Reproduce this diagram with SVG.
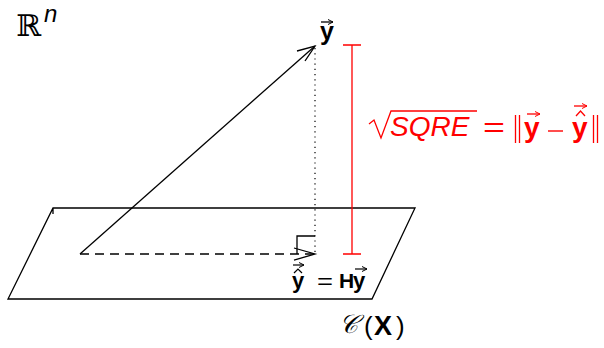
<svg xmlns="http://www.w3.org/2000/svg" width="604" height="348" viewBox="0 0 604 348">
<style>
.k{stroke:#000;fill:none;stroke-width:1.3}
.r{stroke:#ff0000;fill:none;stroke-width:1.3}
.t{font-family:"Liberation Sans",Arial,sans-serif;fill:#000}
.b{font-weight:bold}
.red{fill:#ff0000}
.i{font-style:italic}
</style>
<defs>
<marker id="vec" markerWidth="6" markerHeight="6" refX="5" refY="3" orient="auto" markerUnits="userSpaceOnUse">
<path d="M0,0.5 L5,3 L0,5.5" fill="none" stroke="context-stroke" stroke-width="1"/>
</marker>
</defs>
<g id="plane">
<path class="k" d="M53,208 L415,208 L372,299 L8,299 Z M53,208 L53,214"/>
</g>
<g id="connectors">
<path class="k" d="M80,254 L315,46"/>
<path class="k" d="M297,51 L315,46 L305,61"/>
<path class="k" d="M80,254 L315,254" stroke-dasharray="9,6"/>
<path class="k" d="M294,248 L315,254 L294,260"/>
<path class="k" d="M297,254 L297,236 L315,236"/>
<path d="M315,48 L315,254" stroke="#000" stroke-width="1.2" stroke-dasharray="1.2,4" fill="none"/>
<path class="r" d="M343,45 L361,45 M352,45 L352,254 M343,254 L361,254"/>
</g>
<g id="space-label">
<text class="t" x="16" y="36" font-size="30" style="font-family:'DejaVu Serif',serif">ℝ</text>
<text class="t i" x="44" y="22" font-size="24">n</text>
</g>
<g id="y-label">
<text class="t b" x="320" y="40" font-size="25">y</text>
<path d="M321,22 L333,22" stroke="#000" stroke-width="1.3" marker-end="url(#vec)"/>
</g>
<g id="yhat-label">
<text class="t b" x="292" y="288" font-size="22">y</text>
<path d="M293,265 L304,265" stroke="#000" stroke-width="1.2" marker-end="url(#vec)"/>
<path d="M294,273 L298,269 L302,273" stroke="#000" stroke-width="1.2" fill="none"/>
<text class="t" x="317" y="289" font-size="22" textLength="16" lengthAdjust="spacingAndGlyphs">=</text>
<text class="t b" x="339" y="288" font-size="21">H</text>
<path d="M355,269 L367,269" stroke="#000" stroke-width="1.2" marker-end="url(#vec)"/>
<text class="t b" x="353" y="288" font-size="22">y</text>
</g>
<g id="error-label">
<path class="r" d="M369,124 L374,120 L381,138 L391,111 L477,111"/>
<text class="t i red" x="390" y="136" font-size="28">SQRE</text>
<text class="t red" x="483" y="137" font-size="28" textLength="22" lengthAdjust="spacingAndGlyphs">=</text>
<path class="r" d="M515.5,115 L515.5,143 M519.5,115 L519.5,143"/>
<text class="t b red" x="524" y="137" font-size="28">y</text>
<path d="M527,114 L540,114" stroke="#ff0000" stroke-width="1.3" marker-end="url(#vec)"/>
<path d="M548,131 L563,131" stroke="#ff0000" stroke-width="1.4"/>
<text class="t b red" x="572" y="137" font-size="28">y</text>
<path d="M574,106 L587,106" stroke="#ff0000" stroke-width="1.3" marker-end="url(#vec)"/>
<path d="M576,116 L580.5,111 L585,116" stroke="#ff0000" stroke-width="1.3" fill="none"/>
<path class="r" d="M593.5,115 L593.5,143 M597.5,115 L597.5,143"/>
</g>
<g id="subspace-label">
<text class="t i" x="339" y="333" font-size="26" style="font-family:'Liberation Serif',serif">𝒞</text>
<text class="t" x="364" y="335" font-size="26">(</text>
<text class="t b" x="374" y="335" font-size="27">X</text>
<text class="t" x="396" y="335" font-size="26">)</text>
</g>
</svg>
